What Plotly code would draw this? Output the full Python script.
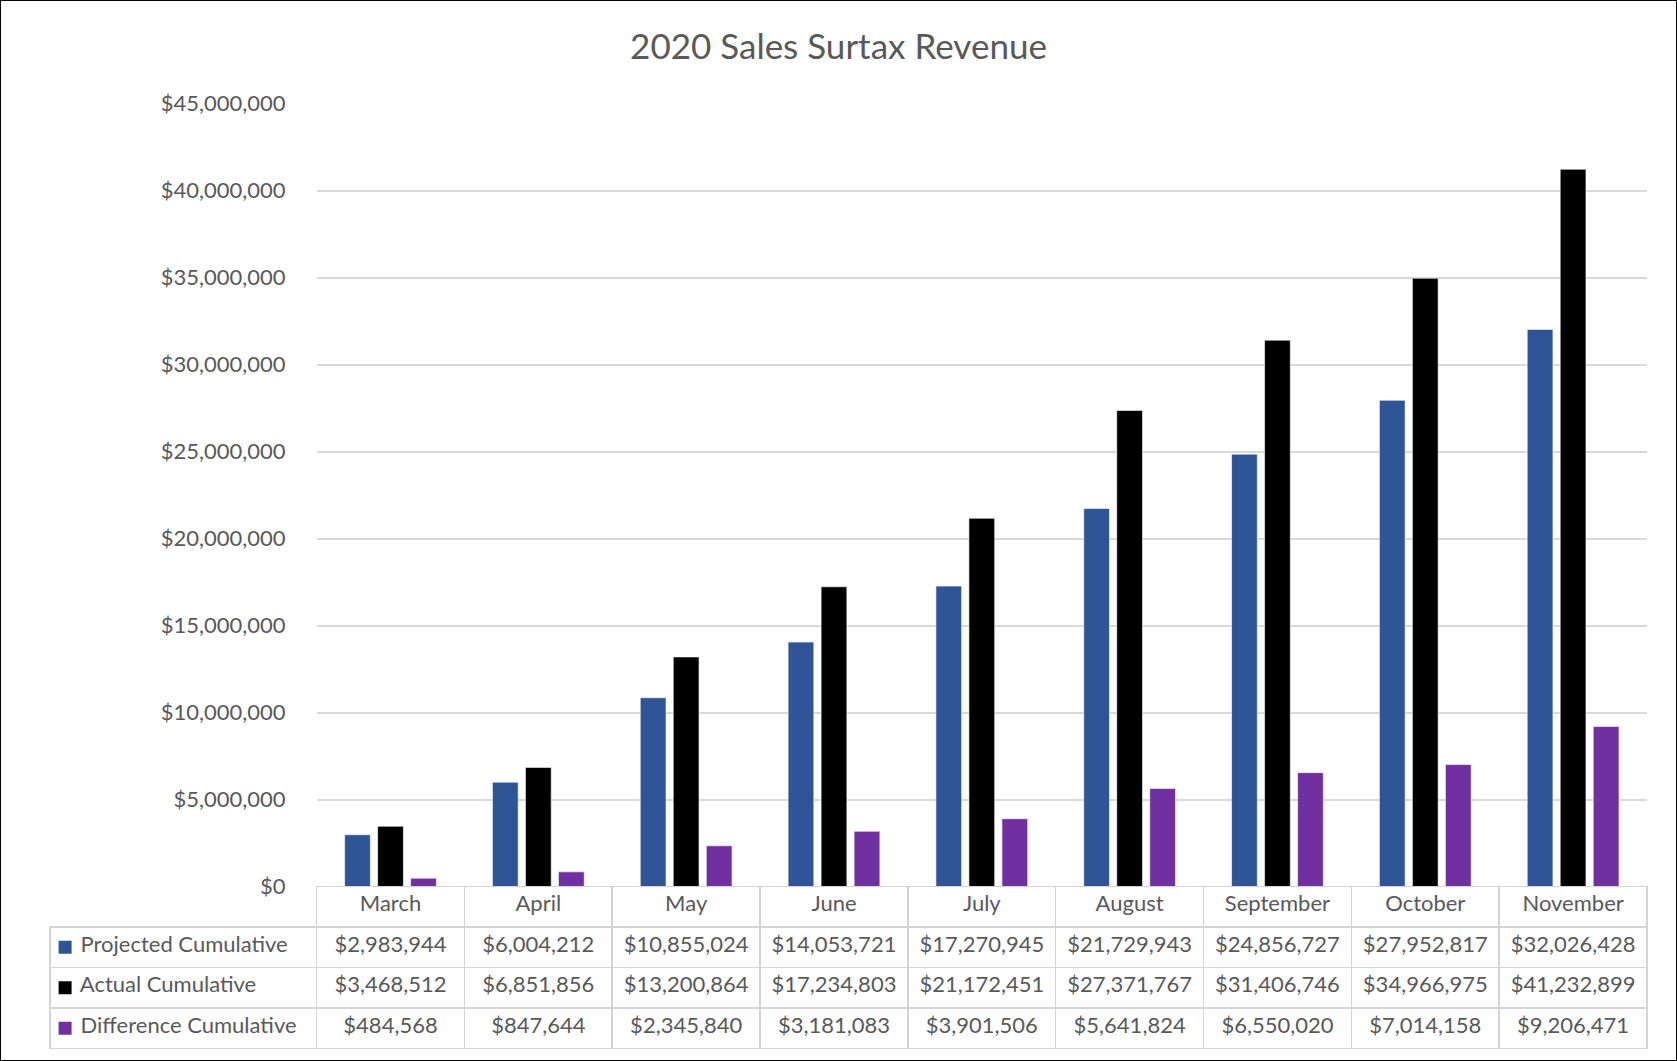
import plotly.graph_objects as go

months = ["March", "April", "May", "June", "July", "August", "September", "October", "November"]
projected = [2983944, 6004212, 10855024, 14053721, 17270945, 21729943, 24856727, 27952817, 32026428]
actual = [3468512, 6851856, 13200864, 17234803, 21172451, 27371767, 31406746, 34966975, 41232899]
difference = [484568, 847644, 2345840, 3181083, 3901506, 5641824, 6550020, 7014158, 9206471]

series_names = ["Projected Cumulative", "Actual Cumulative", "Difference Cumulative"]
series_colors = ["#2F5597", "#000000", "#7030A0"]
y_ticks = list(range(0, 45000001, 5000000))

W, H = 1677, 1061
FONT = "Lato, 'Open Sans', sans-serif"
GREY = "#595959"

# pixel layout of the original excel chart
plot_left, plot_right = 316.6, 1647
plot_top, plot_bottom = 103.7, 886.6
table_left, table_bottom = 50, 1050
row_h = 40.5

fig = go.Figure()
for name, vals, col in zip(series_names, [projected, actual, difference], series_colors):
    fig.add_trace(go.Bar(x=months, y=vals, name=name, marker_color=col,
                         marker_line=dict(color="white", width=0.6)))

def money(v):
    return f"${v:,.0f}"

pad = "\u00a0" * 4
label_col = [pad + n for n in series_names]
columns = [label_col] + [[money(p), money(a), money(d)] for p, a, d in zip(projected, actual, difference)]

cat_w = (plot_right - plot_left) / len(months)
line_grey = "#D4D4D4"
clear = "rgba(0,0,0,0)"
fig.add_trace(go.Table(
    domain=dict(x=[table_left / W, plot_right / W], y=[1 - table_bottom / H, 1 - plot_bottom / H]),
    columnwidth=[plot_left - table_left] + [cat_w] * len(months),
    header=dict(values=[""] + months, height=row_h,
                fill_color=[clear] + ["white"] * len(months),
                line=dict(color=[clear] + [line_grey] * len(months), width=1.5),
                align="center",
                font=dict(family=FONT, size=22, color=GREY)),
    cells=dict(values=columns, height=row_h,
               fill_color=[clear] + ["white"] * len(months),
               line=dict(color=line_grey, width=1.5),
               align=["left"] + ["center"] * len(months),
               font=dict(family=FONT, size=22, color=GREY)),
))

# legend keys drawn in the first table column
fig.add_trace(go.Scatter(
    x=[0] * 3, y=series_names, mode="markers", xaxis="x2", yaxis="y2",
    marker=dict(symbol="square", size=13, color=series_colors, line=dict(width=0)),
    hoverinfo="skip",
))

key_top = plot_bottom + row_h
key_bottom = key_top + 3 * row_h
fig.update_layout(
    width=W, height=H,
    margin=dict(l=0, r=0, t=0, b=0, autoexpand=False),
    paper_bgcolor="white", plot_bgcolor="white",
    showlegend=False,
    barmode="group", bargap=0.33, bargroupgap=0.22,
    title=dict(text="2020 Sales Surtax Revenue", x=0.5, xanchor="center",
               y=1 - 47 / H, yanchor="middle",
               font=dict(family=FONT, size=35, color=GREY)),
    font=dict(family=FONT, color=GREY),
    xaxis=dict(domain=[plot_left / W, plot_right / W], showticklabels=False,
               showline=False, showgrid=False, zeroline=False),
    yaxis=dict(domain=[1 - plot_bottom / H, 1 - plot_top / H], range=[0, 45000000],
               tickvals=y_ticks, ticktext=[money(v) for v in y_ticks],
               showgrid=True, gridcolor="#D9D9D9", gridwidth=1.5,
               zeroline=False, showline=False, ticklabelstandoff=30, automargin=False,
               tickfont=dict(family=FONT, size=22, color=GREY)),
    xaxis2=dict(domain=[table_left / W, plot_left / W], range=[-1.2, 20], visible=False),
    yaxis2=dict(domain=[1 - key_bottom / H, 1 - key_top / H], anchor="x2",
                categoryorder="array", categoryarray=series_names[::-1],
                range=[-0.5, 2.5], visible=False),
    shapes=[dict(type="rect", xref="paper", yref="paper", x0=0, x1=1, y0=0, y1=1,
                 line=dict(color="black", width=2))],
)

fig.write_html("out.html", config={"displayModeBar": False},
               post_script="document.body.style.margin='0';document.body.style.padding='0';")
